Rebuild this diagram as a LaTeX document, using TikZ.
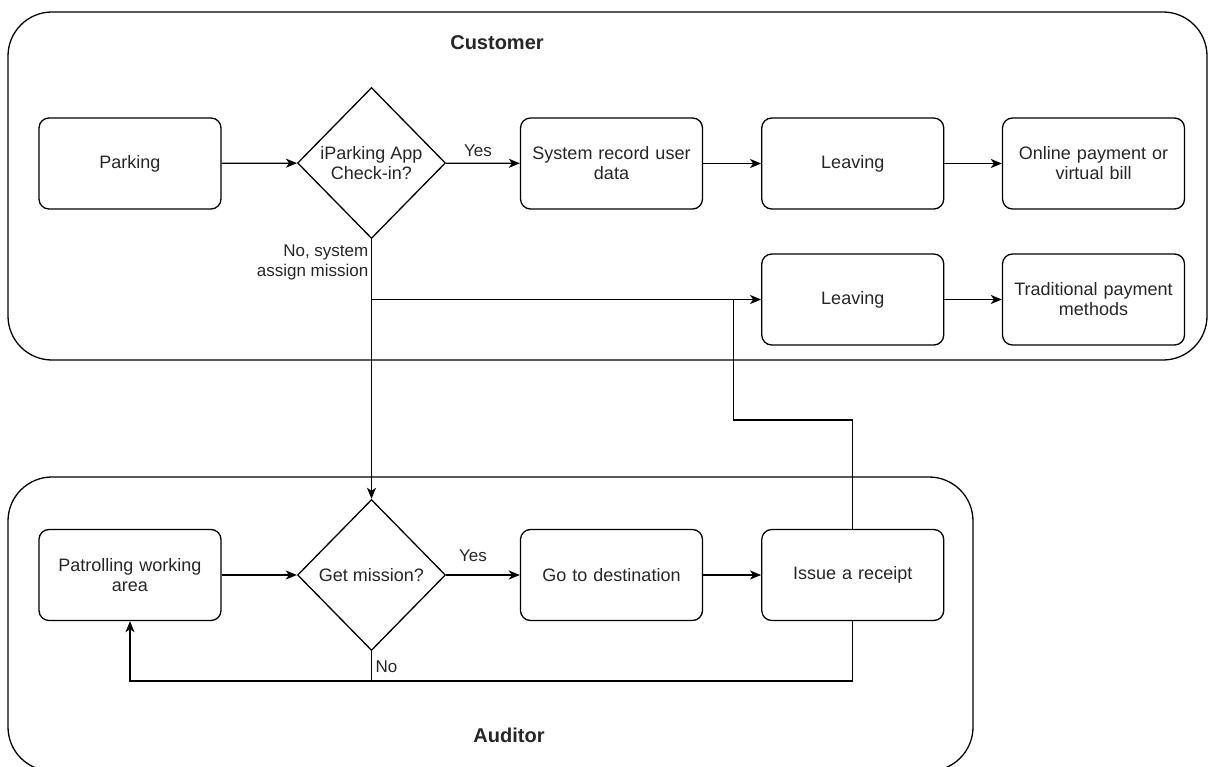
\documentclass[tikz,border=0pt]{standalone}
\usepackage{fontspec}
\setmainfont{Liberation Sans}
\usetikzlibrary{shapes.geometric,arrows.meta}
\begin{document}
\begin{tikzpicture}[x=1pt,y=-1pt,
  line width=1.3pt,
  every node/.style={text=black!85},
  stepbox/.style={draw, rounded corners=10pt, minimum width=182pt, minimum height=91pt,
    align=center, text width=172pt, inner sep=0pt, font=\fontsize{18}{20}\selectfont},
  decide/.style={draw, diamond, minimum width=148pt, minimum height=151pt,
    align=center, inner sep=0pt, font=\fontsize{18}{20}\selectfont},
  lane/.style={draw, rounded corners=44pt},
  lanetitle/.style={font=\fontsize{20}{22}\selectfont\bfseries},
  lbl/.style={font=\fontsize{17}{20}\selectfont, inner sep=0pt},
  arr/.style={-{Stealth[length=11pt,width=9pt,inset=3pt]}}
]
\useasboundingbox (0,0) rectangle (1212,767);
\begin{scope}
\clip (0,0) rectangle (1212,767);
\draw[lane] (8,12) rectangle (1207,360);
\draw[lane] (8,477) rectangle (973,771);
\end{scope}
\node[lanetitle] (tc) at (497,43) {Customer};
\node[lanetitle] (ta) at (509,735) {Auditor};

\node[stepbox] (park) at (130,163.5) {Parking};
\node[decide] (d1) at (371.5,163) {iParking App\\Check-in?};
\node[stepbox] (sys) at (611.5,163.5) {System record user\\data};
\node[stepbox] (lv1) at (852.75,163.5) {Leaving};
\node[stepbox] (onl) at (1093.5,163.5) {Online payment or\\virtual bill};
\node[stepbox] (lv2) at (852.75,299.5) {Leaving};
\node[stepbox] (trad) at (1093.5,299.5) {Traditional payment\\methods};

\node[stepbox] (pat) at (130,575) {Patrolling working\\area};
\node[decide] (d2) at (371.5,575) {Get mission?};
\node[stepbox] (go) at (611.5,575) {Go to destination};
\node[stepbox] (iss) at (852.75,575) {Issue a receipt};

\coordinate (up) at (733.5,420);
\coordinate (loopy) at (0,681);

\draw[arr] (park) -- (d1);
\draw[arr] (d1) -- (sys);
\node[lbl] (yes1) at (478,151) {Yes};
\draw[arr] (sys) -- (lv1);
\draw[arr] (lv1) -- (onl);
\draw[arr] (lv2) -- (trad);
\draw[arr] (d1.south) -- (d2.north);
\draw[arr] (d1.south |- lv2.west) -- (lv2.west);
\node[lbl, anchor=north east, align=right] (nolbl) at (369,244) {No, system\\assign mission};
\draw (iss.north) |- (up) -- (up |- lv2.west);

\draw[arr] (pat) -- (d2);
\draw[arr] (d2) -- (go);
\node[lbl] (yes2) at (473,556) {Yes};
\draw[arr] (go) -- (iss);
\draw[arr] (iss.south) -- (iss.south |- loopy) -- (pat.south |- loopy) -- (pat.south);
\draw (d2.south) -- (d2.south |- loopy);
\node[lbl, anchor=west] (no2) at (375,667) {No};
\end{tikzpicture}
\end{document}
